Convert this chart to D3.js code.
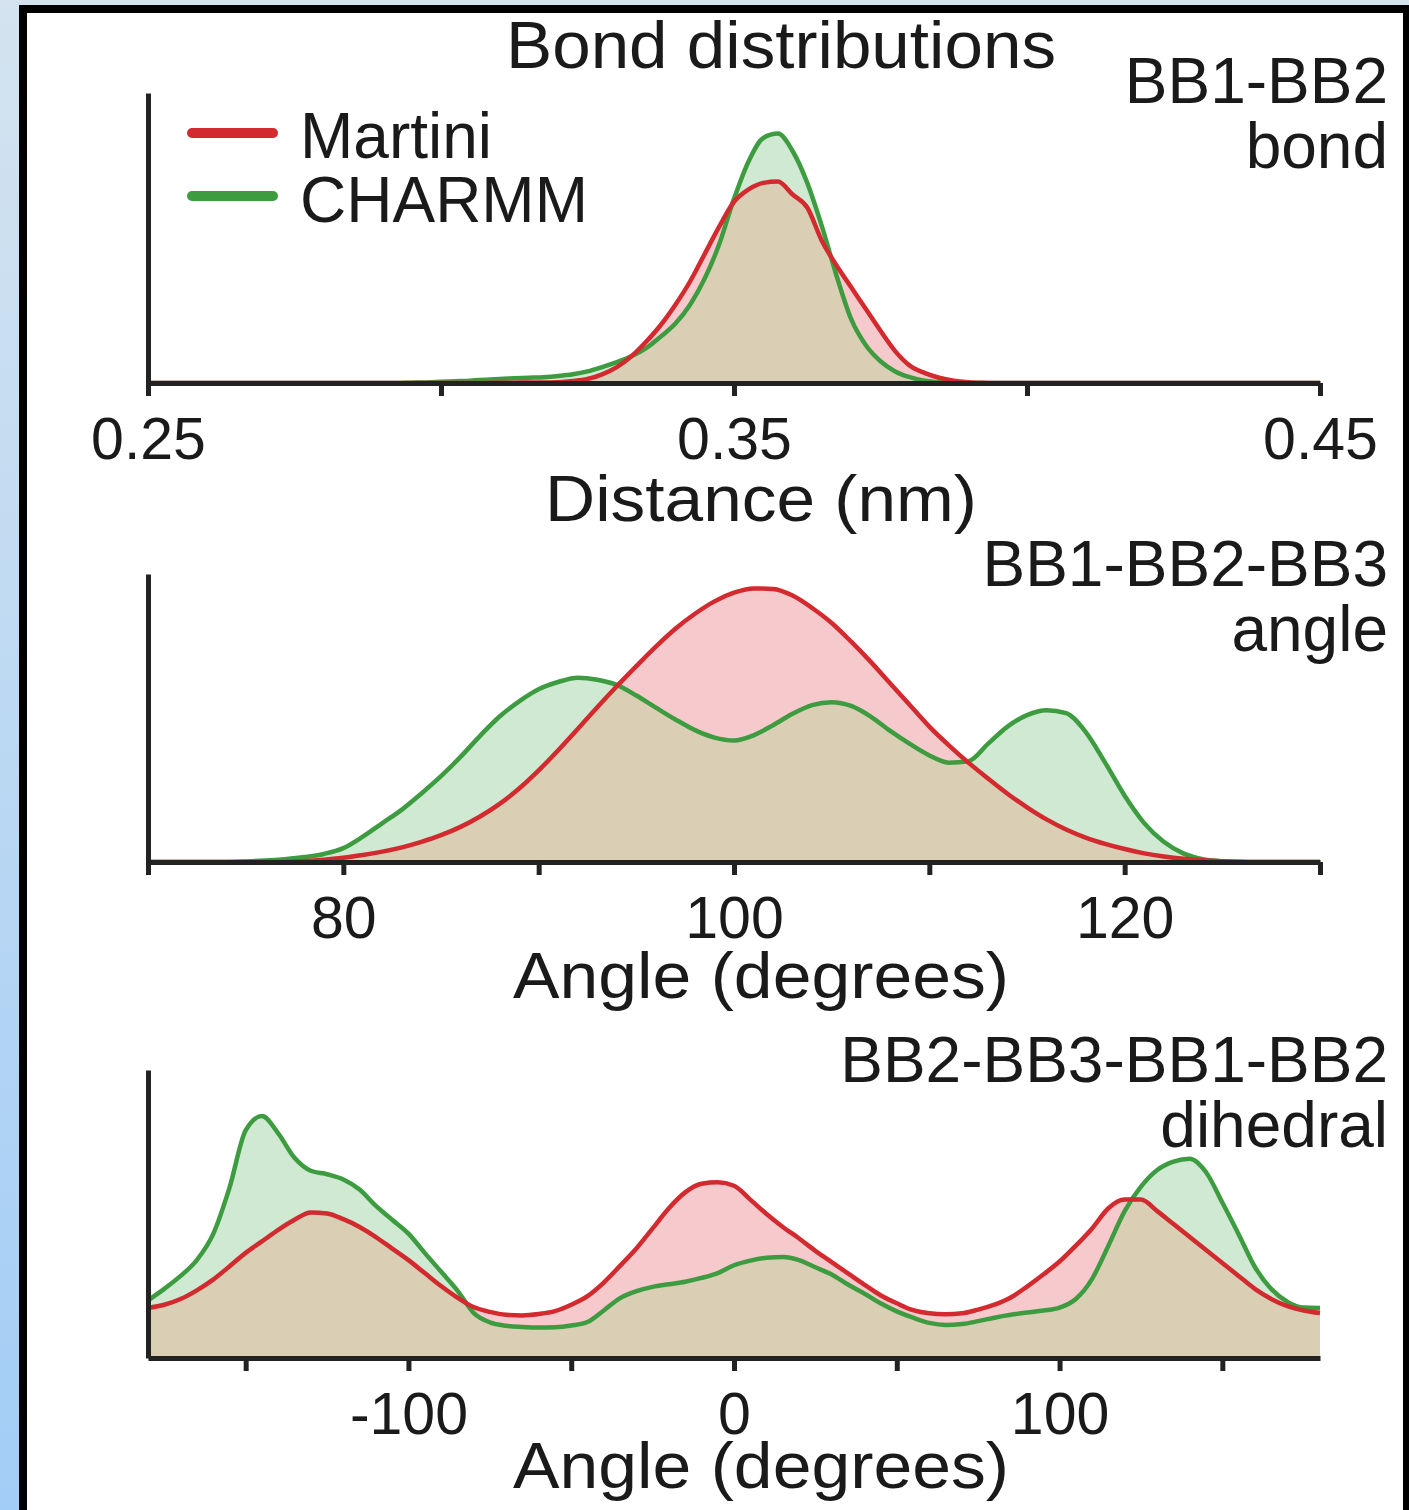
<!DOCTYPE html>
<html>
<head>
<meta charset="utf-8">
<script src="https://cdn.jsdelivr.net/npm/d3@7"></script>
<style>
  body { margin: 0; padding: 0; background: #fff; }
  svg { display: block; }
  text { font-family: "Liberation Sans", Arial, Helvetica, sans-serif; fill: #1a1a1a; }
</style>
</head>
<body>
<div id="chart"></div>
<script>
// ---- data (y in fraction of axis height) ----
let bondX = [0.25, 0.29, 0.2925, 0.295, 0.2975, 0.30, 0.3025, 0.305, 0.3075, 0.31, 0.3125, 0.315, 0.3175,
  0.32, 0.3225, 0.325, 0.3275, 0.33, 0.3325, 0.335, 0.3375, 0.34, 0.3425, 0.345, 0.3475, 0.35, 0.3525,
  0.355, 0.3575, 0.36, 0.3625, 0.365, 0.3675, 0.37, 0.3725, 0.375, 0.3775, 0.38, 0.3825, 0.385, 0.3875,
  0.39, 0.3925, 0.395, 0.45]
let bondMartini = [0, 0, 0, 0, 0, 0, 0, 0, 0, 0.001, 0.001, 0.002, 0.002,
  0.003, 0.007, 0.014, 0.03, 0.055, 0.092, 0.142, 0.2, 0.27, 0.35, 0.445, 0.54, 0.625, 0.668,
  0.69, 0.695, 0.65, 0.605, 0.49, 0.405, 0.33, 0.255, 0.18, 0.11, 0.06, 0.035, 0.018, 0.008,
  0.003, 0.001, 0, 0]
let bondCharmm = [0, 0, 0, 0.001, 0.002, 0.004, 0.006, 0.008, 0.011, 0.014, 0.016, 0.018, 0.02,
  0.024, 0.03, 0.04, 0.055, 0.072, 0.092, 0.12, 0.16, 0.205, 0.27, 0.36, 0.48, 0.635, 0.765,
  0.845, 0.86, 0.8, 0.69, 0.54, 0.37, 0.22, 0.13, 0.075, 0.04, 0.02, 0.008, 0.003, 0,
  0, 0, 0, 0]

let angleX = d3.range(70, 131, 1)
let angleMartini = [0, 0, 0, 0, 0, 0, 0, 0, 0.003, 0.008,
  0.015, 0.024, 0.036, 0.051, 0.07, 0.093, 0.122, 0.158, 0.202, 0.255,
  0.318, 0.388, 0.462, 0.537, 0.61, 0.68, 0.748, 0.81, 0.862, 0.905,
  0.935, 0.95, 0.948, 0.925, 0.882, 0.83, 0.765, 0.695, 0.62, 0.545,
  0.47, 0.405, 0.345, 0.29, 0.237, 0.19, 0.148, 0.113, 0.085, 0.063,
  0.045, 0.03, 0.019, 0.011, 0.006, 0.003, 0.001, 0, 0, 0, 0]
let angleCharmm = [0, 0, 0, 0, 0, 0.002, 0.005, 0.01, 0.017, 0.028,
  0.048, 0.088, 0.135, 0.182, 0.238, 0.298, 0.365, 0.438, 0.505, 0.558,
  0.6, 0.625, 0.64, 0.633, 0.615, 0.578, 0.536, 0.495, 0.458, 0.432,
  0.422, 0.44, 0.475, 0.515, 0.545, 0.555, 0.542, 0.505, 0.455, 0.41,
  0.37, 0.345, 0.35, 0.41, 0.47, 0.51, 0.527, 0.517, 0.452, 0.345,
  0.23, 0.135, 0.07, 0.03, 0.01, 0.003, 0, 0, 0, 0, 0]

let dihedralX = d3.range(-180, 181, 5)
let dihedralMartini = [0.174, 0.185, 0.205, 0.235, 0.272, 0.318, 0.365, 0.405, 0.445, 0.48,
  0.505, 0.502, 0.482, 0.455, 0.42, 0.38, 0.34, 0.295, 0.25, 0.21,
  0.177, 0.16, 0.15, 0.148, 0.153, 0.163, 0.185, 0.215, 0.262, 0.32,
  0.38, 0.45, 0.52, 0.575, 0.605, 0.61, 0.598, 0.55, 0.5, 0.455,
  0.415, 0.372, 0.333, 0.294, 0.255, 0.218, 0.19, 0.166, 0.155, 0.152,
  0.155, 0.168, 0.185, 0.21, 0.248, 0.29, 0.335, 0.39, 0.45, 0.52,
  0.55, 0.55, 0.51, 0.465, 0.42, 0.375, 0.33, 0.285, 0.24, 0.205,
  0.18, 0.165, 0.156]
let dihedralCharmm = [0.2, 0.24, 0.285, 0.34, 0.43, 0.59, 0.79, 0.84, 0.78, 0.695,
  0.65, 0.638, 0.62, 0.585, 0.528, 0.48, 0.432, 0.365, 0.3, 0.235,
  0.157, 0.124, 0.112, 0.108, 0.106, 0.107, 0.113, 0.125, 0.165, 0.208,
  0.232, 0.247, 0.256, 0.265, 0.278, 0.295, 0.322, 0.338, 0.348, 0.351,
  0.34, 0.315, 0.29, 0.255, 0.224, 0.19, 0.162, 0.14, 0.122, 0.115,
  0.118, 0.128, 0.14, 0.15, 0.158, 0.165, 0.175, 0.205, 0.275, 0.39,
  0.51, 0.595, 0.653, 0.682, 0.692, 0.645, 0.54, 0.43, 0.316, 0.24,
  0.195, 0.175, 0.174]

let bondTicks = [0.25, 0.30, 0.35, 0.40, 0.45]
let bondLabels = [0.25, 0.35, 0.45]
let angleTicks = [70, 80, 90, 100, 110, 120, 130]
let angleLabels = [80, 100, 120]
let dihedralTicks = [-150, -100, -50, 0, 50, 100, 150]
let dihedralLabels = [-100, 0, 100]

let seriesNames = ['Martini', 'CHARMM']

// ---- layout ----
let W = 1409, H = 1510
let xLeft = 148, xRight = 1320
let red = '#d22a2e', green = '#3e9c40'
let pink = '#f6cacd', mint = '#cfe9d2', tan = '#dacfb4'

let svg = d3.select('#chart').append('svg')
  .attr('width', W)
  .attr('height', H)

// page frame
let defs = svg.append('defs')
let grad = defs.append('linearGradient').attr('id', 'bg').attr('x1', 0).attr('y1', 0).attr('x2', 0).attr('y2', 1)
grad.append('stop').attr('offset', '0%').attr('stop-color', '#d4e3ef')
grad.append('stop').attr('offset', '100%').attr('stop-color', '#a2cdf6')
svg.append('rect').attr('width', W).attr('height', H).attr('fill', 'url(#bg)')
svg.append('rect').attr('x', 19).attr('y', 5).attr('width', W - 19).attr('height', H - 5).attr('fill', '#000')
svg.append('rect').attr('x', 27).attr('y', 13).attr('width', 1403 - 27).attr('height', H - 13).attr('fill', '#fff')

// the original lettering is a little wider than Arial, so stretch it to the measured widths
svg.append('text')
  .attr('x', 781).attr('y', 68)
  .attr('text-anchor', 'middle')
  .attr('font-size', '66px')
  .attr('textLength', 550)
  .attr('lengthAdjust', 'spacingAndGlyphs')
  .text('Bond distributions')

let panels = [
  {x: bondX, a: bondMartini, b: bondCharmm, domain: [0.25, 0.45], ticks: bondTicks, labels: bondLabels,
   fmt: d3.format('.2f'), top: 93, base: 383, title: 'Distance (nm)', titleW: 432, titleY: 521,
   tag: ['BB1-BB2', 'bond'], tagY: 103},
  {x: angleX, a: angleMartini, b: angleCharmm, domain: [70, 130], ticks: angleTicks, labels: angleLabels,
   fmt: d3.format('d'), top: 574, base: 862, title: 'Angle (degrees)', titleW: 496, titleY: 998,
   tag: ['BB1-BB2-BB3', 'angle'], tagY: 586},
  {x: dihedralX, a: dihedralMartini, b: dihedralCharmm, domain: [-180, 180], ticks: dihedralTicks, labels: dihedralLabels,
   fmt: d => d < 0 ? '-' + Math.abs(d) : String(d), top: 1070, base: 1358, title: 'Angle (degrees)', titleW: 496, titleY: 1488,
   tag: ['BB2-BB3-BB1-BB2', 'dihedral'], tagY: 1082}
]

panels.forEach(function(p) {
  let x = d3.scaleLinear().domain(p.domain).range([xLeft, xRight])
  let y = d3.scaleLinear().domain([0, 1]).range([p.base, p.top])
  let g = svg.append('g')

  let rows = p.x.map((v, i) => ({x: v, a: p.a[i], b: p.b[i], m: Math.min(p.a[i], p.b[i])}))

  let area = key => d3.area().curve(d3.curveMonotoneX)
    .x(d => x(d.x)).y0(y(0)).y1(d => y(d[key]))
  let line = key => d3.line().curve(d3.curveMonotoneX)
    .x(d => x(d.x)).y(d => y(d[key]))

  g.append('path').attr('d', area('b')(rows)).attr('fill', mint)
  g.append('path').attr('d', area('a')(rows)).attr('fill', pink)
  g.append('path').attr('d', area('m')(rows)).attr('fill', tan)

  g.append('path').attr('d', line('b')(rows))
    .attr('fill', 'none').attr('stroke', green).attr('stroke-width', 4.5).attr('stroke-linejoin', 'round')
  g.append('path').attr('d', line('a')(rows))
    .attr('fill', 'none').attr('stroke', red).attr('stroke-width', 4.5).attr('stroke-linejoin', 'round')

  // x axis
  let xAxis = d3.axisBottom(x)
    .tickValues(p.ticks)
    .tickSize(13)
    .tickSizeOuter(0)
    .tickFormat(d => p.labels.some(l => Math.abs(l - d) < 1e-9) ? p.fmt(d) : '')
  let xg = g.append('g').attr('transform', 'translate(0,' + p.base + ')').call(xAxis)
  xg.select('.domain').attr('stroke', '#222').attr('stroke-width', 5)
  xg.selectAll('.tick line').attr('stroke', '#222').attr('stroke-width', 5)
  xg.selectAll('.tick text')
    .attr('y', 76).attr('dy', 0)
    .attr('font-size', '59px')
    .attr('font-family', '"Liberation Sans", Arial, sans-serif')
    .attr('fill', '#1a1a1a')

  // y axis (plain line)
  let yg = g.append('g').attr('transform', 'translate(' + xLeft + ',0)')
    .call(d3.axisLeft(y).tickValues([]).tickSizeOuter(0))
  yg.select('.domain').attr('stroke', '#222').attr('stroke-width', 5)

  g.append('text')
    .attr('x', 761).attr('y', p.titleY)
    .attr('text-anchor', 'middle')
    .attr('font-size', '65px')
    .attr('textLength', p.titleW)
    .attr('lengthAdjust', 'spacingAndGlyphs')
    .text(p.title)

  g.selectAll('.tag').data(p.tag).enter().append('text')
    .attr('x', 1388)
    .attr('y', (d, i) => p.tagY + i * 65)
    .attr('text-anchor', 'end')
    .attr('font-size', '64px')
    .text(d => d)
})

// legend
let legend = svg.append('g')
legend.selectAll('line').data(seriesNames).enter().append('line')
  .attr('x1', 192).attr('x2', 273)
  .attr('y1', (d, i) => 133 + i * 63)
  .attr('y2', (d, i) => 133 + i * 63)
  .attr('stroke', (d, i) => i === 0 ? red : green)
  .attr('stroke-width', 10)
  .attr('stroke-linecap', 'round')
legend.selectAll('text').data(seriesNames).enter().append('text')
  .attr('x', 300)
  .attr('y', (d, i) => 158 + i * 64)
  .attr('font-size', '64px')
  .text(d => d)
</script>
</body>
</html>
